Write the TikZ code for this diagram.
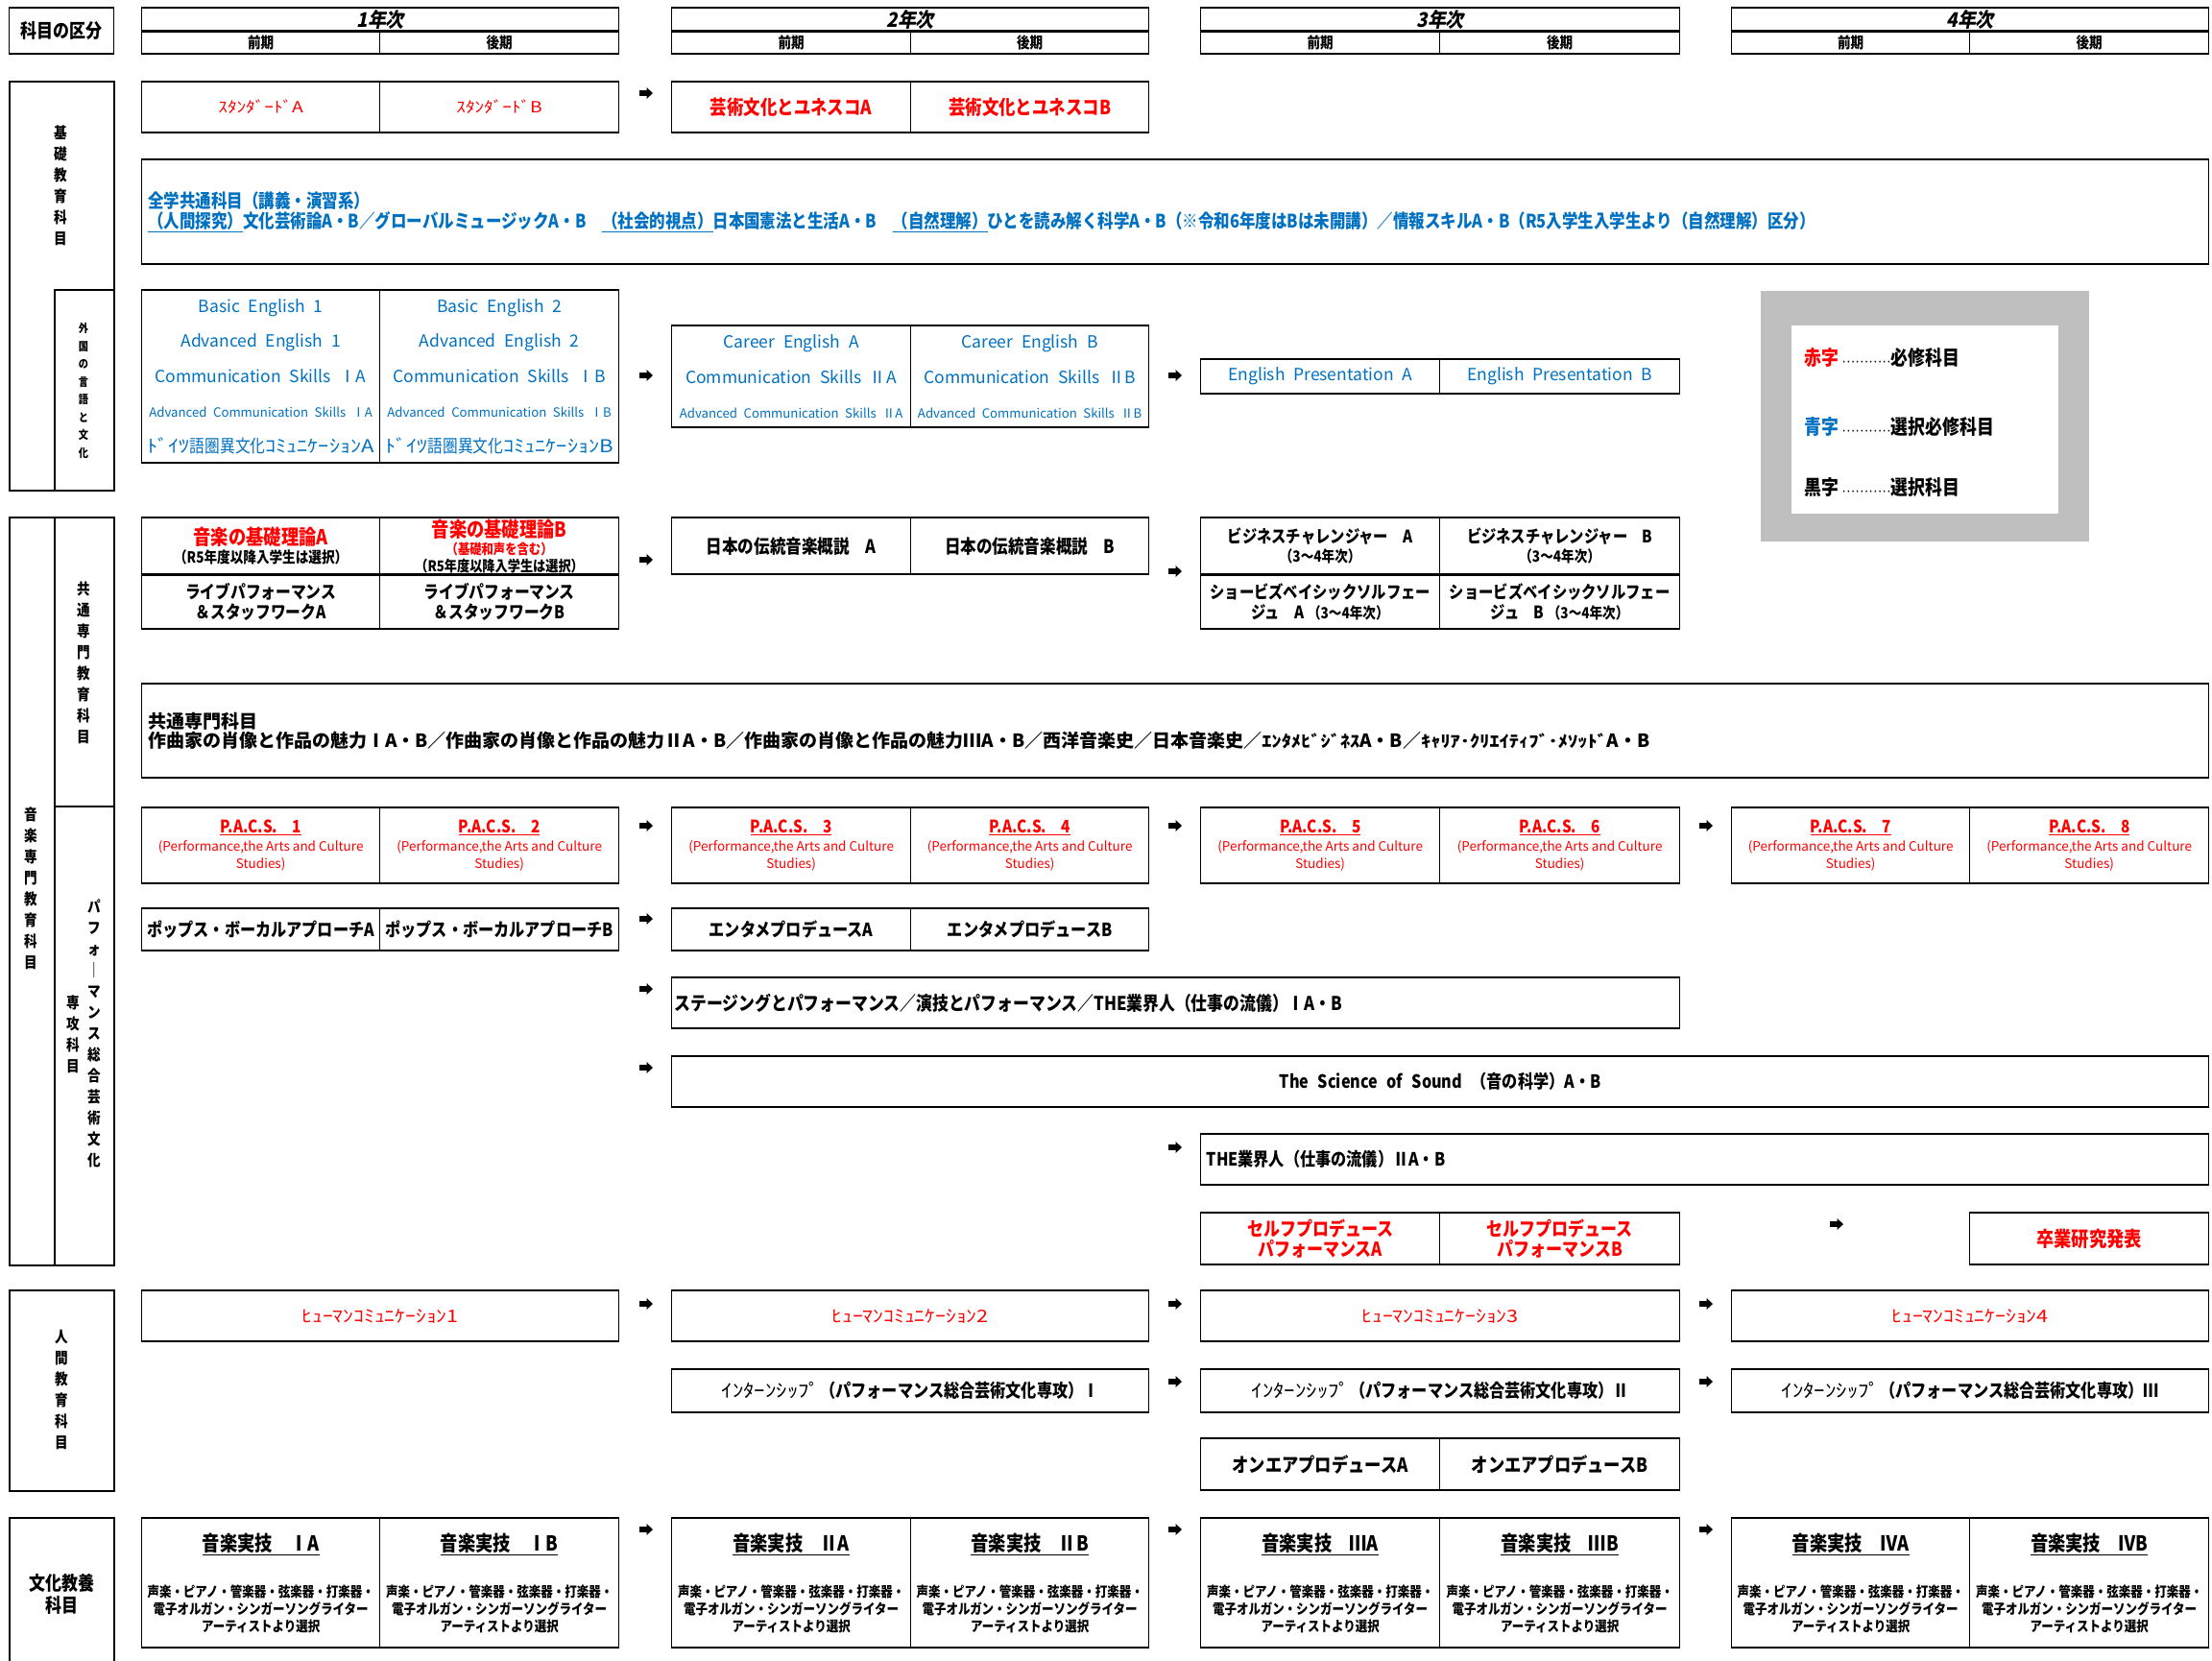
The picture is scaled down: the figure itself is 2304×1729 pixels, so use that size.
\documentclass[tikz,border=0pt]{standalone}
\usepackage{fontspec}
\setmainfont{Noto Sans CJK JP}[FakeStretch=0.85]
\newfontfamily\hdfont{Noto Sans CJK JP}[FakeStretch=0.9,FakeSlant=0.2]
\newfontfamily\hwfont{Noto Sans CJK JP}[FakeStretch=1.2]
\newfontfamily\enfont{Noto Sans CJK JP}[FakeStretch=1.0]
\definecolor{rd}{HTML}{FF0000}
\definecolor{bl}{HTML}{0070C0}
\definecolor{lg}{HTML}{BFBFBF}
\newcommand\fs[2]{\fontsize{#1}{#2}\selectfont}
\newcommand\hw[1]{{\hwfont\mdseries #1}}
\newcommand\hwk[1]{{\hwfont\fontsize{17}{19.5}\selectfont #1}}
\newcommand\cellbox[7]{\node[cell,minimum width={#4pt-#2pt},minimum height={#5pt-#3pt},#6] (#1) at (#2,#3) {#7};}
\newcommand\lbox[5]{\node[lblbox,minimum width={#4pt-#2pt},minimum height={#5pt-#3pt}] (#1) at (#2,#3) {};}
\tikzset{
  cell/.style={draw, line width=1.3pt, inner sep=0pt, anchor=north west, align=center,
    font=\fs{19}{22}\bfseries,
    path picture={\draw[line width=3.6pt] (path picture bounding box.north west) -- (path picture bounding box.north east)
       (path picture bounding box.south west) -- (path picture bounding box.south east);}},
  lblbox/.style={draw, line width=1.8pt, inner sep=0pt, anchor=north west},
  arr/.style={inner sep=0pt, minimum width=14pt, minimum height=12pt,
    path picture={\fill (path picture bounding box.center) +(-7pt,2.9pt) -- +(0.5pt,2.9pt) -- +(0.5pt,6pt)
      -- +(7pt,0pt) -- +(0.5pt,-6pt) -- +(0.5pt,-2.9pt) -- +(-7pt,-2.9pt) -- cycle;}},
  vt/.style={align=center, inner sep=0pt, font=\fs{16}{22}\bfseries},
  red/.style={text=rd},
  en/.style={text=bl, font=\enfont\fs{17.5}{36.5}},
  hd/.style={font=\hdfont\fs{21}{22}\bfseries},
  sub/.style={font=\fs{16}{18}\bfseries},
  pacs/.style={text=rd, font=\enfont\fs{13.5}{18.5}},
  jk/.style={font=\fs{14.7}{17.6}\bfseries},
  lgt/.style={anchor=west, inner sep=0pt, font=\fs{21}{22}\bfseries}
}
\newcommand\sm[1]{{\fontsize{13.2}{36.5}\selectfont #1}}
\newcommand\dl[1]{{\normalfont\fontsize{18.5}{36.5}\selectfont #1}}
\newcommand\pt[1]{{\normalfont\fontsize{18}{18.5}\selectfont\bfseries\underline{#1}}}
\newcommand\jt[1]{{\fontsize{21.5}{17.6}\selectfont\underline{#1}}}
\newcommand\pj{\\[31pt]声楽・ピアノ・管楽器・弦楽器・打楽器・\\電子オルガン・シンガーソングライター\\アーティストより選択}
\newcommand\lgdots{{\fontsize{9}{10}\selectfont ···········}}
\begin{document}
\begin{tikzpicture}[x=1pt,y=-1pt]
\useasboundingbox (0,0) rectangle (2304,1729);
% header
\cellbox{kb}{9}{7}{118}{56}{font=\fs{20}{22}\bfseries}{科目の区分}
\cellbox{y1}{147}{7}{644}{32}{hd}{1年次}
\cellbox{y1a}{147}{32}{395}{56}{sub}{前期}
\cellbox{y1b}{395}{32}{644}{56}{sub}{後期}
\cellbox{y2}{699}{7}{1196}{32}{hd}{2年次}
\cellbox{y2a}{699}{32}{948}{56}{sub}{前期}
\cellbox{y2b}{948}{32}{1196}{56}{sub}{後期}
\cellbox{y3}{1250}{7}{1749}{32}{hd}{3年次}
\cellbox{y3a}{1250}{32}{1499}{56}{sub}{前期}
\cellbox{y3b}{1499}{32}{1749}{56}{sub}{後期}
\cellbox{y4}{1803}{7}{2300}{32}{hd}{4年次}
\cellbox{y4a}{1803}{32}{2051}{56}{sub}{前期}
\cellbox{y4b}{2051}{32}{2300}{56}{sub}{後期}
% left label boxes
\lbox{kiso}{9}{84}{118}{510}
\lbox{gaikoku}{56}{301}{118}{510}
\lbox{ongaku}{9}{538}{118}{1317}
\lbox{kyotsu}{56}{538}{118}{839}
\lbox{pacb}{56}{839}{118}{1317}
\lbox{ningen}{9}{1343}{118}{1552}
\lbox{bunka}{9}{1580}{118}{1760}
\node[vt] (kisot) at (63,193) {基\\礎\\教\\育\\科\\目};
\node[vt,font=\fs{12}{18.5}\bfseries] (gait) at (87,407) {外\\国\\の\\言\\語\\と\\文\\化};
\node[vt] (kyot) at (87,690) {共\\通\\専\\門\\教\\育\\科\\目};
\node[vt] (ongt) at (32,925) {音\\楽\\専\\門\\教\\育\\科\\目};
\node[vt] (pact) at (98,1076) {パ\\フ\\ォ\\｜\\マ\\ン\\ス\\総\\合\\芸\\術\\文\\化};
\node[vt] (senk) at (76,1077) {専\\攻\\科\\目};
\node[vt] (ningt) at (64,1447) {人\\間\\教\\育\\科\\目};
\node[vt,font=\fs{20}{23}\bfseries] (bunt) at (64,1660) {文化教養\\科目};
% standard row
\cellbox{s1}{147}{84}{395}{138}{red,font=\fs{16}{20}}{\hw{ｽﾀﾝﾀﾞｰﾄﾞA}}
\cellbox{s2}{395}{84}{644}{138}{red,font=\fs{16}{20}}{\hw{ｽﾀﾝﾀﾞｰﾄﾞB}}
\cellbox{s3}{699}{84}{948}{138}{red,font=\fs{20.5}{22}\bfseries}{芸術文化とユネスコA}
\cellbox{s4}{948}{84}{1196}{138}{red,font=\fs{20.5}{22}\bfseries}{芸術文化とユネスコB}
\node[arr] (a1) at (673,97) {};
% common subjects
\cellbox{cs}{147}{165}{2300}{275}{text=bl,align=left,text width=2140pt,font=\fs{19.4}{21}\bfseries}{全学共通科目（講義・演習系）\\\underline{（人間探究）}文化芸術論A・B／グローバルミュージックA・B　\underline{（社会的視点）}日本国憲法と生活A・B　\underline{（自然理解）}ひとを読み解く科学A・B（※令和6年度はBは未開講）／情報スキルA・B（R5入学生入学生より（自然理解）区分）}
% foreign language
\cellbox{f1}{147}{301}{395}{482}{en}{Basic\enspace English\enspace 1\\Advanced\enspace English\enspace 1\\Communication\enspace Skills\enspace ⅠA\\\sm{Advanced\enspace Communication\enspace Skills\enspace ⅠA}\\\dl{\hw{ﾄﾞｲﾂ}語圏異文化\hw{ｺﾐｭﾆｹｰｼｮﾝA}}}
\cellbox{f2}{395}{301}{644}{482}{en}{Basic\enspace English\enspace 2\\Advanced\enspace English\enspace 2\\Communication\enspace Skills\enspace ⅠB\\\sm{Advanced\enspace Communication\enspace Skills\enspace ⅠB}\\\dl{\hw{ﾄﾞｲﾂ}語圏異文化\hw{ｺﾐｭﾆｹｰｼｮﾝB}}}
\cellbox{f3}{699}{338}{948}{445}{en}{Career\enspace English\enspace A\\Communication\enspace Skills\enspace ⅡA\\\sm{Advanced\enspace Communication\enspace Skills\enspace ⅡA}}
\cellbox{f4}{948}{338}{1196}{445}{en}{Career\enspace English\enspace B\\Communication\enspace Skills\enspace ⅡB\\\sm{Advanced\enspace Communication\enspace Skills\enspace ⅡB}}
\cellbox{f5}{1250}{373}{1499}{410}{en}{English\enspace Presentation\enspace A}
\cellbox{f6}{1499}{373}{1749}{410}{en}{English\enspace Presentation\enspace B}
\node[arr] (a2) at (673,391) {};
\node[arr] (a3) at (1224,391) {};
% legend
\node[fill=lg, inner sep=0pt, anchor=north west, minimum width=342pt, minimum height=261pt] (lgb) at (1834,303) {};
\node[fill=white, inner sep=0pt, anchor=north west, minimum width=278pt, minimum height=196pt] (lgw) at (1866,339) {};
\node[lgt] (lg1) at (1879,373) {\textcolor{rd}{赤字}\,\lgdots{}必修科目};
\node[lgt] (lg2) at (1879,445) {\textcolor{bl}{青字}\,\lgdots{}選択必修科目};
\node[lgt] (lg3) at (1879,508) {黒字\,\lgdots{}選択科目};
% music common
\cellbox{m1}{147}{538}{395}{598}{font=\fs{16}{19}\bfseries}{{\fontsize{21.5}{19}\selectfont\textcolor{rd}{音楽の基礎理論A}}\\（R5年度以降入学生は選択）}
\cellbox{m2}{395}{538}{644}{598}{font=\fs{14.5}{18}\bfseries}{{\fontsize{21.5}{18}\selectfont\textcolor{rd}{音楽の基礎理論B}}\\\textcolor{rd}{（基礎和声を含む）}\\{\fontsize{15.5}{18}\selectfont （R5年度以降入学生は選択）}}
\cellbox{m3}{147}{598}{395}{655}{font=\fs{18.5}{21}\bfseries}{ライブパフォーマンス\\＆スタッフワークA}
\cellbox{m4}{395}{598}{644}{655}{font=\fs{18.5}{21}\bfseries}{ライブパフォーマンス\\＆スタッフワークB}
\cellbox{m5}{699}{538}{948}{598}{font=\fs{19.5}{22}\bfseries}{日本の伝統音楽概説　A}
\cellbox{m6}{948}{538}{1196}{598}{font=\fs{19.5}{22}\bfseries}{日本の伝統音楽概説　B}
\cellbox{m7}{1250}{538}{1499}{598}{font=\fs{16}{20}\bfseries}{{\fontsize{18}{20}\selectfont ビジネスチャレンジャー　A}\\（3～4年次）}
\cellbox{m8}{1499}{538}{1749}{598}{font=\fs{16}{20}\bfseries}{{\fontsize{18}{20}\selectfont ビジネスチャレンジャー　B}\\（3～4年次）}
\cellbox{m9}{1250}{598}{1499}{655}{font=\fs{18}{21}\bfseries}{ショービズベイシックソルフェー\\ジュ　A {\fontsize{16}{21}\selectfont （3～4年次）}}
\cellbox{m10}{1499}{598}{1749}{655}{font=\fs{18}{21}\bfseries}{ショービズベイシックソルフェー\\ジュ　B {\fontsize{16}{21}\selectfont （3～4年次）}}
\node[arr] (a4) at (673,583) {};
\node[arr] (a5) at (1224,595) {};
% common specialized
\cellbox{ks}{147}{711}{2300}{810}{align=left,text width=2140pt,font=\enfont\fs{19}{19.5}\bfseries}{共通専門科目\\作曲家の肖像と作品の魅力ⅠA・B／作曲家の肖像と作品の魅力ⅡA・B／作曲家の肖像と作品の魅力ⅢA・B／西洋音楽史／日本音楽史／\hwk{ｴﾝﾀﾒﾋﾞｼﾞﾈｽ}A・B／\hwk{ｷｬﾘｱ･ｸﾘｴｲﾃｨﾌﾞ･ﾒｿｯﾄﾞ}A・B}
% PACS
\cellbox{p1}{147}{840}{395}{920}{pacs}{\pt{P.A.C.S.　1}\\(Performance,the Arts and Culture\\Studies)}
\cellbox{p2}{395}{840}{644}{920}{pacs}{\pt{P.A.C.S.　2}\\(Performance,the Arts and Culture\\Studies)}
\cellbox{p3}{699}{840}{948}{920}{pacs}{\pt{P.A.C.S.　3}\\(Performance,the Arts and Culture\\Studies)}
\cellbox{p4}{948}{840}{1196}{920}{pacs}{\pt{P.A.C.S.　4}\\(Performance,the Arts and Culture\\Studies)}
\cellbox{p5}{1250}{840}{1499}{920}{pacs}{\pt{P.A.C.S.　5}\\(Performance,the Arts and Culture\\Studies)}
\cellbox{p6}{1499}{840}{1749}{920}{pacs}{\pt{P.A.C.S.　6}\\(Performance,the Arts and Culture\\Studies)}
\cellbox{p7}{1803}{840}{2051}{920}{pacs}{\pt{P.A.C.S.　7}\\(Performance,the Arts and Culture\\Studies)}
\cellbox{p8}{2051}{840}{2300}{920}{pacs}{\pt{P.A.C.S.　8}\\(Performance,the Arts and Culture\\Studies)}
\node[arr] (a6) at (673,860) {};
\node[arr] (a7) at (1224,860) {};
\node[arr] (a8) at (1777,860) {};
% pops
\cellbox{po1}{147}{945}{395}{990}{}{ポップス・ボーカルアプローチA}
\cellbox{po2}{395}{945}{644}{990}{}{ポップス・ボーカルアプローチB}
\cellbox{po3}{699}{945}{948}{990}{}{エンタメプロデュースA}
\cellbox{po4}{948}{945}{1196}{990}{}{エンタメプロデュースB}
\node[arr] (a9) at (673,957) {};
% staging
\cellbox{st}{699}{1017}{1749}{1071}{align=left,text width=1044pt,font=\fs{19.8}{22}\bfseries}{ステージングとパフォーマンス／演技とパフォーマンス／THE業界人（仕事の流儀）ⅠA・B}
\node[arr] (a10) at (673,1030) {};
% science
\cellbox{sc}{699}{1099}{2300}{1153}{}{The\enspace Science\enspace of\enspace Sound\enspace（音の科学）A・B}
\node[arr] (a11) at (673,1112) {};
% THE II
\cellbox{th}{1250}{1180}{2300}{1234}{align=left,text width=1038pt}{THE業界人（仕事の流儀）ⅡA・B}
\node[arr] (a12) at (1224,1195) {};
% self produce
\cellbox{sp1}{1250}{1262}{1499}{1317}{red,font=\fs{20}{21}\bfseries}{セルフプロデュース\\パフォーマンスA}
\cellbox{sp2}{1499}{1262}{1749}{1317}{red,font=\fs{20}{21}\bfseries}{セルフプロデュース\\パフォーマンスB}
\cellbox{gr}{2051}{1262}{2300}{1317}{red,font=\fs{21.5}{22}\bfseries}{卒業研究発表}
\node[arr] (a13) at (1913,1275) {};
% human communication
\cellbox{hc1}{147}{1343}{644}{1397}{red,font=\fs{18}{22}}{\hw{ﾋｭｰﾏﾝｺﾐｭﾆｹｰｼｮﾝ1}}
\cellbox{hc2}{699}{1343}{1196}{1397}{red,font=\fs{18}{22}}{\hw{ﾋｭｰﾏﾝｺﾐｭﾆｹｰｼｮﾝ2}}
\cellbox{hc3}{1250}{1343}{1749}{1397}{red,font=\fs{18}{22}}{\hw{ﾋｭｰﾏﾝｺﾐｭﾆｹｰｼｮﾝ3}}
\cellbox{hc4}{1803}{1343}{2300}{1397}{red,font=\fs{18}{22}}{\hw{ﾋｭｰﾏﾝｺﾐｭﾆｹｰｼｮﾝ4}}
\node[arr] (a14) at (673,1358) {};
\node[arr] (a15) at (1224,1358) {};
\node[arr] (a16) at (1777,1358) {};
% internship
\cellbox{in1}{699}{1425}{1196}{1471}{}{\hw{ｲﾝﾀｰﾝｼｯﾌﾟ}（パフォーマンス総合芸術文化専攻）Ⅰ}
\cellbox{in2}{1250}{1425}{1749}{1471}{}{\hw{ｲﾝﾀｰﾝｼｯﾌﾟ}（パフォーマンス総合芸術文化専攻）Ⅱ}
\cellbox{in3}{1803}{1425}{2300}{1471}{}{\hw{ｲﾝﾀｰﾝｼｯﾌﾟ}（パフォーマンス総合芸術文化専攻）Ⅲ}
\node[arr] (a17) at (1224,1439) {};
\node[arr] (a18) at (1777,1439) {};
% on air
\cellbox{oa1}{1250}{1497}{1499}{1552}{font=\fs{20.3}{22}\bfseries}{オンエアプロデュースA}
\cellbox{oa2}{1499}{1497}{1749}{1552}{font=\fs{20.3}{22}\bfseries}{オンエアプロデュースB}
% music practice
\cellbox{j1}{147}{1580}{395}{1716}{jk}{\jt{音楽実技　ⅠA}\pj}
\cellbox{j2}{395}{1580}{644}{1716}{jk}{\jt{音楽実技　ⅠB}\pj}
\cellbox{j3}{699}{1580}{948}{1716}{jk}{\jt{音楽実技　ⅡA}\pj}
\cellbox{j4}{948}{1580}{1196}{1716}{jk}{\jt{音楽実技　ⅡB}\pj}
\cellbox{j5}{1250}{1580}{1499}{1716}{jk}{\jt{音楽実技　ⅢA}\pj}
\cellbox{j6}{1499}{1580}{1749}{1716}{jk}{\jt{音楽実技　ⅢB}\pj}
\cellbox{j7}{1803}{1580}{2051}{1716}{jk}{\jt{音楽実技　ⅣA}\pj}
\cellbox{j8}{2051}{1580}{2300}{1716}{jk}{\jt{音楽実技　ⅣB}\pj}
\node[arr] (a19) at (673,1593) {};
\node[arr] (a20) at (1224,1593) {};
\node[arr] (a21) at (1777,1593) {};
\end{tikzpicture}
\end{document}
